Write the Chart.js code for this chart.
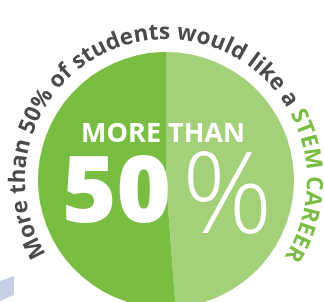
<!DOCTYPE html>
<html>
<head>
<meta charset="utf-8">
<script src="https://cdn.jsdelivr.net/npm/chart.js@4.4.1/dist/chart.umd.min.js"></script>
<style>
  html, body { margin: 0; padding: 0; background: #fff; overflow: hidden; }
  #pie { display: block; }
</style>
</head>
<body>
<canvas id="pie" width="324" height="302"></canvas>
<script>
// data
var categories = ['Other students', 'Would like a STEM career'];
var shares = [48.8, 51.2];
var sliceColors = ['#a3d078', '#79be43'];

// texts
var arcTextParts = [
  { text: 'More than 50% of students would like a ', color: '#4b4b4d' },
  { text: 'STEM CAREER', color: '#79be43' }
];
var centerTop = 'MORE THAN';
var centerNumber = '50';
var centerSign = '%';

// curved title + big number in the middle
var labelsPlugin = {
  id: 'labels',
  beforeDraw: function (chart) {
    var ctx = chart.ctx;
    // little lavender shape in the bottom left corner
    ctx.save();
    ctx.fillStyle = '#c7cfe6';
    ctx.beginPath();
    ctx.moveTo(0, 281);
    ctx.lineTo(14, 276);
    ctx.lineTo(14, 295);
    ctx.lineTo(0, 301);
    ctx.closePath();
    ctx.fill();
    ctx.restore();
  },
  afterDraw: function (chart) {
    var ctx = chart.ctx;
    var arc = chart.getDatasetMeta(0).data[0];
    var cx = arc.x, cy = arc.y;
    var r = arc.outerRadius + 13;
    var spacing = 0.05;

    ctx.save();
    ctx.font = 'bold 22.5px "Open Sans"';
    ctx.textAlign = 'center';
    ctx.textBaseline = 'alphabetic';
    var chars = [];
    arcTextParts.forEach(function (p) {
      for (var i = 0; i < p.text.length; i++) {
        var ch = p.text[i];
        chars.push({ ch: ch, color: p.color, w: ctx.measureText(ch).width + spacing });
      }
    });
    var total = chars.reduce(function (s, c) { return s + c.w; }, 0);
    var a = -total / 2 / r + 0.01;
    chars.forEach(function (c) {
      var mid = a + c.w / 2 / r;
      ctx.save();
      ctx.translate(cx, cy);
      ctx.rotate(mid);
      ctx.fillStyle = c.color;
      ctx.fillText(c.ch, 0, -r);
      ctx.restore();
      a += c.w / r;
    });
    ctx.restore();

    // center text
    ctx.save();
    ctx.fillStyle = '#ffffff';
    ctx.textBaseline = 'alphabetic';
    ctx.textAlign = 'center';
    ctx.font = 'bold 27px "Open Sans"';
    ctx.fillText(centerTop, cx - 3, cy - 38);

    ctx.textAlign = 'left';
    ctx.font = '800 93px "Open Sans"';
    var wNum = ctx.measureText(centerNumber).width;
    ctx.fillText(centerNumber, 62, cy + 42);
    ctx.font = '300 112px "Open Sans"';
    ctx.fillText(centerSign, 62 + wNum + 11, cy + 53);
    ctx.restore();
  }
};

var pieChart = new Chart(document.getElementById('pie').getContext('2d'), {
  type: 'pie',
  data: {
    labels: categories,
    datasets: [
      {
        data: shares,
        backgroundColor: sliceColors,
        borderWidth: 0
      }
    ]
  },
  options: {
    responsive: false,
    animation: false,
    radius: 128,
    layout: { padding: { left: 38, right: 30, top: 58, bottom: 0 } },
    plugins: {
      legend: { display: false },
      tooltip: { enabled: false }
    }
  },
  plugins: [labelsPlugin]
});
</script>
</body>
</html>
